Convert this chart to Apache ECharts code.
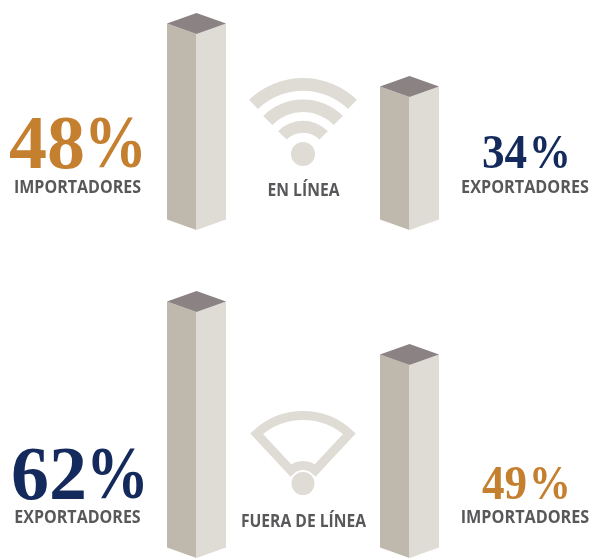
<!DOCTYPE html>
<html>
<head>
<meta charset="utf-8">
<style>html,body{margin:0;padding:0;background:#fff}#chart{width:589px;height:558px}</style>
<script src="https://cdn.jsdelivr.net/npm/echarts@6/dist/echarts.min.js"></script>
</head>
<body>
<div id="chart"></div>
<script>
var myChart = echarts.init(document.getElementById('chart'));

// values
var onlineLabels = ['IMPORTADORES', 'EXPORTADORES'];
var onlineValues = [48, 34];
var offlineLabels = ['EXPORTADORES', 'IMPORTADORES'];
var offlineValues = [62, 49];

var ORANGE = '#c47f2f', NAVY = '#142a5c', GREY = '#58585a', ICON = '#dfdcd6';

// isometric box, the top and bottom come from the axes
function renderBox(params, api) {
  var top = api.coord([api.value(0), api.value(1)]);
  var base = api.coord([api.value(0), params.seriesIndex === 0 ? 4.44 : 1.7]);
  var x = top[0], hw = 29.5, d = 10.5;
  return {
    type: 'group',
    children: [
      { type: 'polygon', shape: { points: [[x - hw, top[1] - d], [x, top[1]], [x, base[1]], [x - hw, base[1] - d]] }, style: { fill: '#bfb8ad' } },
      { type: 'polygon', shape: { points: [[x, top[1]], [x + hw, top[1] - d], [x + hw, base[1] - d], [x, base[1]]] }, style: { fill: '#dfdcd6' } },
      { type: 'polygon', shape: { points: [[x - hw, top[1] - d], [x, top[1] - 2 * d], [x + hw, top[1] - d], [x, top[1]]] }, style: { fill: '#8a8283' } }
    ]
  };
}

function toData(values) {
  return values.map(function (v, i) { return [i, v]; });
}

function text(str, x, y, font, color, align, sx) {
  return {
    type: 'text', x: x, y: y, scaleX: sx || 1, silent: true,
    style: { text: str, font: font, fill: color, textAlign: align || 'center', verticalAlign: 'middle' }
  };
}

function bigPct(value, left, mid, color) {
  return [
    text(String(value), left, mid, 'bold 76px "Liberation Serif"', color, 'left'),
    text('%', left + 75, mid, 'bold 74px "Liberation Serif"', color, 'left', 0.85)
  ];
}

function smallPct(value, left, mid, color) {
  return [
    text(String(value), left, mid, 'bold 48px "Liberation Serif"', color, 'left', 0.94),
    text('%', left + 47, mid, 'bold 48px "Liberation Serif"', color, 'left', 0.87)
  ];
}

var LABEL_FONT = 'bold 18px "Open Sans"';

function arc(cy, r0, r, a) {
  return {
    type: 'sector', silent: true,
    shape: { cx: 303, cy: cy, r0: r0, r: r, startAngle: -Math.PI / 2 - a, endAngle: -Math.PI / 2 + a },
    style: { fill: ICON }
  };
}

var graphics = [
  arc(155.4, 64.7, 77.4, 0.77),
  arc(155.4, 43.3, 56, 0.79),
  arc(155.4, 22.7, 34.7, 0.8),
  { type: 'circle', silent: true, shape: { cx: 303, cy: 154, r: 12 }, style: { fill: ICON } },
  {
    type: 'sector', silent: true,
    shape: { cx: 303, cy: 483.6, r0: 18, r: 68, startAngle: -Math.PI / 2 - 0.75, endAngle: -Math.PI / 2 + 0.75 },
    style: { fill: 'none', stroke: ICON, lineWidth: 9, lineJoin: 'miter' }
  },
  { type: 'circle', silent: true, shape: { cx: 303, cy: 483.5, r: 11.5 }, style: { fill: ICON } },
  text('EN LÍNEA', 303.5, 191, LABEL_FONT, GREY, 'center', 0.87),
  text('FUERA DE LÍNEA', 303.5, 522, LABEL_FONT, GREY, 'center', 0.87),
  text(onlineLabels[0], 77.5, 187.5, LABEL_FONT, GREY, 'center', 0.89),
  text(onlineLabels[1], 525, 187.5, LABEL_FONT, GREY, 'center', 0.9),
  text(offlineLabels[0], 77.5, 517.5, LABEL_FONT, GREY, 'center', 0.89),
  text(offlineLabels[1], 525, 517.5, LABEL_FONT, GREY, 'center', 0.9)
].concat(
  bigPct(onlineValues[0], 9, 148, ORANGE),
  smallPct(onlineValues[1], 482, 156, NAVY),
  bigPct(offlineValues[0], 11, 479, NAVY),
  smallPct(offlineValues[1], 482, 487, ORANGE)
);

var option = {
  animation: false,
  backgroundColor: '#fff',
  grid: [
    { left: 90, width: 426, top: 0, height: 230 },
    { left: 90, width: 426, top: 279, height: 279 }
  ],
  xAxis: [
    { type: 'category', gridIndex: 0, data: onlineLabels, show: false },
    { type: 'category', gridIndex: 1, data: offlineLabels, show: false }
  ],
  yAxis: [
    { type: 'value', gridIndex: 0, min: 4.44, max: 55.55, show: false },
    { type: 'value', gridIndex: 1, min: 1.7, max: 70.08, show: false }
  ],
  series: [
    { type: 'custom', xAxisIndex: 0, yAxisIndex: 0, clip: false, silent: true, renderItem: renderBox, data: toData(onlineValues), encode: { x: 0, y: 1 } },
    { type: 'custom', xAxisIndex: 1, yAxisIndex: 1, clip: false, silent: true, renderItem: renderBox, data: toData(offlineValues), encode: { x: 0, y: 1 } }
  ],
  graphic: graphics
};
myChart.setOption(option);
</script>
</body>
</html>
